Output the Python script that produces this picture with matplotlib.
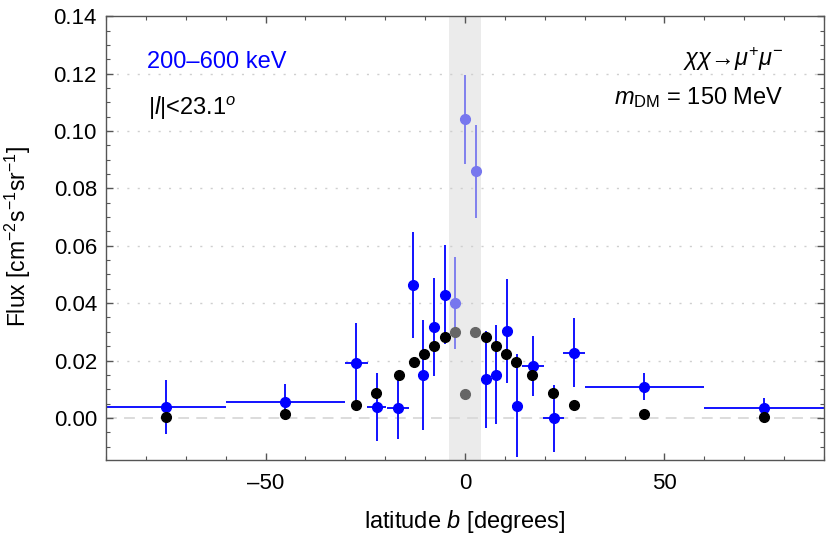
import matplotlib
matplotlib.use("Agg")
import matplotlib.pyplot as plt
from matplotlib.ticker import MultipleLocator, FuncFormatter

plt.rcParams['font.family'] = ['Liberation Sans', 'DejaVu Sans']
plt.rcParams['mathtext.fontset'] = 'custom'
plt.rcParams['mathtext.rm'] = 'Liberation Sans'
plt.rcParams['mathtext.it'] = 'Liberation Sans:italic'
plt.rcParams['mathtext.bf'] = 'Liberation Sans:bold'

# data
blue_b = [-75, -45, -27.2, -22.1, -16.8, -13.1, -10.5, -7.7, -5.0,
          5.2, 7.8, 10.6, 13.1, 17.0, 22.2, 27.35, 45, 75]
blue_xerr = [15, 15, 2.8, 2.35, 2.65, 1.2, 1.2, 1.2, 1.2,
             1.2, 1.2, 1.2, 1.2, 2.75, 2.75, 2.65, 15, 15]
blue_flux = [0.0038, 0.0056, 0.0193, 0.0038, 0.0036, 0.0463, 0.0150, 0.0318, 0.0429,
             0.0134, 0.0150, 0.0303, 0.0042, 0.0182, -0.0001, 0.0227, 0.0108, 0.0033]
blue_err = [0.0093, 0.0061, 0.0137, 0.0120, 0.0108, 0.0185, 0.0193, 0.0171, 0.0173,
            0.0169, 0.0173, 0.0181, 0.0180, 0.0105, 0.0117, 0.0120, 0.0047, 0.0035]

light_b = [-2.5, 0.0, 2.8]
light_xerr = [1.2, 1.2, 1.2]
light_flux = [0.0401, 0.1041, 0.0860]
light_err = [0.0161, 0.0156, 0.0163]

model_b = [-75, -45, -27.3, -22.2, -16.6, -12.7, -10.2, -7.7, -5.0,
           5.2, 7.8, 10.3, 12.9, 16.8, 22.1, 27.4, 45, 75]
model_flux = [0.0002, 0.0013, 0.0045, 0.0086, 0.0150, 0.0194, 0.0221, 0.0250, 0.0282,
              0.0282, 0.0251, 0.0221, 0.0194, 0.0149, 0.0086, 0.0045, 0.0014, 0.0002]
model_in_b = [-2.5, 0.0, 2.6]
model_in_flux = [0.0298, 0.0082, 0.0298]

band = [-4, 4]

fig = plt.figure(figsize=(8.3, 5.49), dpi=100)
ax = fig.add_axes([0.1277, 0.1621, 0.865, 0.808])

ax.axvspan(band[0], band[1], color='#ebebeb', zorder=0, lw=0)
for yv in [0.02, 0.04, 0.06, 0.08, 0.10, 0.12]:
    ax.axhline(yv, color='#cfcfcf', lw=1.0, ls=(0, (1.5, 6)), zorder=0.5)
ax.axhline(0.0, color='#d9d9d9', lw=1.3, ls=(0, (6, 4)), zorder=0.5)

ax.errorbar(blue_b, blue_flux, yerr=blue_err, xerr=blue_xerr, fmt='o',
            color='#0000ff', ms=7, lw=1.3, capsize=0, zorder=2)
ax.errorbar(light_b, light_flux, yerr=light_err, xerr=light_xerr, fmt='o',
            color='#7777ee', ms=7, lw=1.3, capsize=0, zorder=2)
ax.plot(model_b, model_flux, 'o', color='black', ms=7, zorder=3)
ax.plot(model_in_b, model_in_flux, 'o', color='#666666', ms=7, zorder=3)

ax.set_xlim(-90, 90)
ax.set_ylim(-0.0147, 0.14)

ax.xaxis.set_major_locator(MultipleLocator(50))
ax.xaxis.set_minor_locator(MultipleLocator(10))
ax.yaxis.set_major_locator(MultipleLocator(0.02))
ax.yaxis.set_minor_locator(MultipleLocator(0.005))
ax.yaxis.set_major_formatter(FuncFormatter(lambda v, p: f"{v:.2f}"))
ax.xaxis.set_major_formatter(FuncFormatter(lambda v, p: f"{v:.0f}".replace('-', '\u2013')))

for s in ax.spines.values():
    s.set_color('#555555')
    s.set_linewidth(1.0)
ax.tick_params(which='both', direction='in', top=True, right=True, color='#555555',
               labelsize=16)
ax.tick_params(axis='x', which='major', pad=9.5)
ax.tick_params(axis='y', which='major', pad=6.5)
ax.tick_params(which='major', length=5, width=1.0)
ax.tick_params(which='minor', length=3, width=0.8)

ax.set_xlabel('latitude $b$ [degrees]', fontsize=17, va='top')
ax.xaxis.set_label_coords(0.5, -0.108)
ax.set_ylabel('Flux [cm$^{-2}$s$^{-1}$sr$^{-1}$]', fontsize=16.5)
ax.yaxis.set_label_coords(-0.102, 0.505)

ax.text(0.057, 0.883, '200\u2013600 keV', transform=ax.transAxes, color='#0000ff',
        fontsize=17, ha='left', va='baseline')
ax.text(0.058, 0.778, '|$l$|<23.1$^o$', transform=ax.transAxes, color='black',
        fontsize=17, ha='left', va='baseline')
ax.text(0.943, 0.888, '$\\chi\\chi$\u2192$\\mu^{+}\\mu^{-}$', transform=ax.transAxes,
        fontsize=17, ha='right', va='baseline')
ax.text(0.943, 0.802, '$m_{\\mathrm{DM}}$ = 150 MeV', transform=ax.transAxes,
        fontsize=17, ha='right', va='baseline')

fig.savefig('out.png', dpi=100)
